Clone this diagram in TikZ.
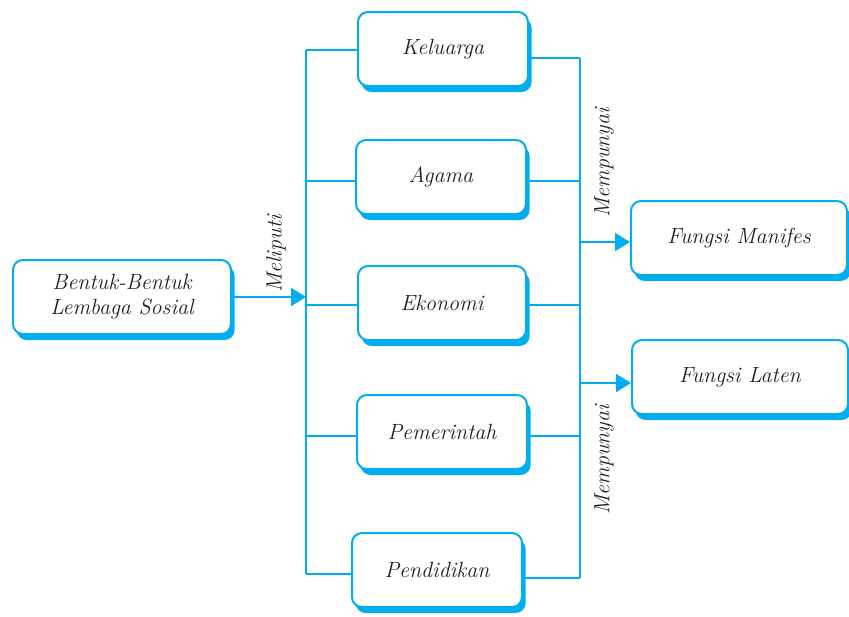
\documentclass[tikz,border=0pt]{standalone}
\usepackage{xcolor}
\definecolor{lscyan}{RGB}{0,174,239}
\definecolor{lstext}{RGB}{35,31,32}
\usepackage{tikz}
\usetikzlibrary{positioning, arrows.meta, shadows}

\begin{document}
\begin{tikzpicture}[
    x=0.5pt, y=-0.5pt,
    box/.style={draw=lscyan, line width=1pt, fill=white, rounded corners=5pt,
                minimum height=37pt, inner sep=2pt, align=center, text=lstext,
                font=\fontsize{11}{12.5}\selectfont\itshape,
                drop shadow={shadow xshift=1.8pt, shadow yshift=-3pt,
                             fill=lscyan, opacity=1}},
    link/.style={lscyan, line width=1pt},
    arrowlink/.style={link, -{Triangle[length=7.5pt, width=9pt]}},
    verb/.style={font=\fontsize{11}{12.5}\selectfont\itshape, text=lstext, rotate=90},
  ]
    \useasboundingbox (0,0) rectangle (849,616);

    % --- Bus lines ---
    \coordinate (ltop) at (306,50);
    \coordinate (lbot) at (306,574);
    \coordinate (rtop) at (580,58);
    \coordinate (rbot) at (580,578);

    % --- Boxes ---
    \node[box, minimum width=109pt] (lembaga) at (122,297) {Bentuk-Bentuk\\Lembaga Sosial};
    \node[box, minimum width=85pt] (keluarga)   at (443,49)  {Keluarga};
    \node[box, minimum width=85pt] (agama)      at (441,177) {Agama};
    \node[box, minimum width=84pt] (ekonomi)    at (442,303) {Ekonomi};
    \node[box, minimum width=85pt] (pemerintah) at (442,432) {Pemerintah};
    \node[box, minimum width=85pt] (pendidikan) at (437,570) {Pendidikan};
    \node[box, minimum width=108pt] (manifes)   at (739,238) {Fungsi Manifes};
    \node[box, minimum width=108pt] (laten)     at (740,377) {Fungsi Laten};

    % --- Left bus ---
    \draw[link] (ltop) -- (lbot);
    \draw[arrowlink] (lembaga.east) -- (lembaga.east -| ltop);
    \draw[link] (ltop) -- (keluarga.west |- ltop);
    \draw[link] ([yshift=-2pt]agama.west -| ltop) -- ([yshift=-2pt]agama.west);
    \draw[link] ([yshift=-1pt]ekonomi.west -| ltop) -- ([yshift=-1pt]ekonomi.west);
    \draw[link] ([yshift=-2pt]pemerintah.west -| ltop) -- ([yshift=-2pt]pemerintah.west);
    \draw[link] (lbot) -- (pendidikan.west |- lbot);

    % --- Right bus ---
    \draw[link] (rtop) -- (rbot);
    \draw[link] (keluarga.east |- rtop) -- (rtop);
    \draw[link] ([yshift=-2pt]agama.east) -- ([yshift=-2pt]agama.east -| rtop);
    \draw[link] ([yshift=-1pt]ekonomi.east) -- ([yshift=-1pt]ekonomi.east -| rtop);
    \draw[link] ([yshift=-2pt]pemerintah.east) -- ([yshift=-2pt]pemerintah.east -| rtop);
    \draw[link] (pendidikan.east |- rbot) -- (rbot);
    \draw[arrowlink] ([yshift=-2pt]manifes.west -| rtop) -- ([yshift=-2pt]manifes.west);
    \draw[arrowlink] ([yshift=-3pt]laten.west -| rtop) -- ([yshift=-3pt]laten.west);

    % --- Labels ---
    \node[verb] (meliputi) at (276,254) {Meliputi};
    \node[verb] (mempunyai1) at (604,163) {Mempunyai};
    \node[verb] (mempunyai2) at (604,460) {Mempunyai};
  \end{tikzpicture}
\end{document}
